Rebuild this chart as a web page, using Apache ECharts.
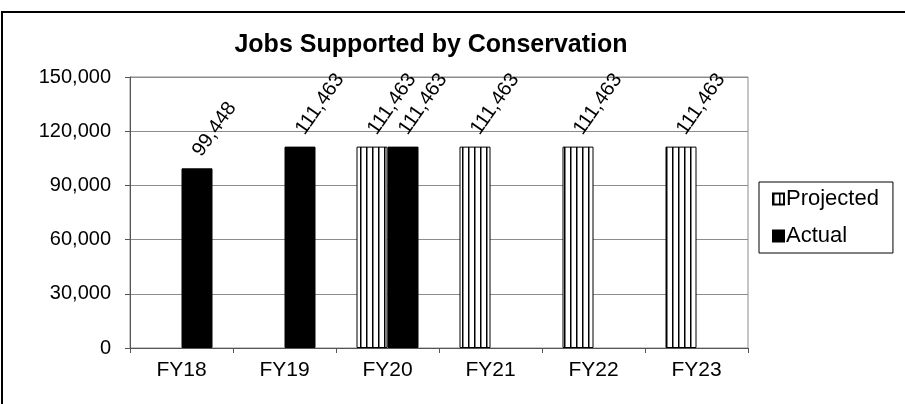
<!DOCTYPE html>
<html>
<head>
<meta charset="utf-8">
<script src="https://cdn.jsdelivr.net/npm/echarts@6/dist/echarts.min.js"></script>
<style>
  html, body { margin: 0; padding: 0; background: #fff; }
  #chart { width: 905px; height: 404px; }
</style>
</head>
<body>
<div id="chart"></div>
<script>
// data
const categories = ['FY18', 'FY19', 'FY20', 'FY21', 'FY22', 'FY23'];
const projected = [null, null, 111463, 111463, 111463, 111463];
const actual = [99448, 111463, 111463, null, null, null];
const yTicks = [0, 30000, 60000, 90000, 120000, 150000];

const font = '"Liberation Sans", Arial, sans-serif';

// vertical stripe fill for the projected bars
function stripes() {
  var c = document.createElement('canvas');
  c.width = 6;
  c.height = 6;
  var ctx = c.getContext('2d');
  ctx.fillStyle = '#fff';
  ctx.fillRect(0, 0, 6, 6);
  ctx.fillStyle = '#000';
  ctx.fillRect(0, 0, 1.5, 6);
  return c;
}

function fmt(v) {
  return Number(v).toLocaleString('en-US');
}

var chart = echarts.init(document.getElementById('chart'));

var labelOpt = {
  show: true,
  position: 'top',
  distance: 14,
  rotate: 55,
  align: 'left',
  verticalAlign: 'middle',
  color: '#000',
  fontSize: 20,
  fontFamily: font,
  formatter: function (p) { return fmt(p.value); }
};

chart.setOption({
  animation: false,
  backgroundColor: '#fff',
  title: {
    text: 'Jobs Supported by Conservation',
    left: 426,
    top: 28,
    textAlign: 'center',
    textStyle: { fontSize: 25, fontWeight: 'bold', color: '#000', fontFamily: font }
  },
  graphic: [{
    type: 'rect',
    shape: { x: 2, y: 12, width: 2000, height: 2000 },
    style: { fill: null, stroke: '#000', lineWidth: 2 },
    silent: true
  }],
  legend: {
    orient: 'vertical',
    left: 759,
    top: 182,
    padding: [6, 14, 6, 13],
    itemGap: 15,
    itemWidth: 11,
    itemHeight: 11,
    icon: 'rect',
    borderColor: '#000',
    borderWidth: 1,
    textStyle: { fontSize: 22, color: '#000', fontFamily: font, padding: [0, 0, 0, -3] },
    data: ['Projected', 'Actual']
  },
  grid: {
    left: 130,
    right: 157,
    top: 77,
    bottom: 56,
    show: true,
    borderColor: '#8c8c8c',
    borderWidth: 1
  },
  xAxis: {
    type: 'category',
    data: categories,
    axisLine: { lineStyle: { color: '#555', width: 1 } },
    axisTick: { show: true, length: 5, lineStyle: { color: '#555' } },
    axisLabel: { fontSize: 21, color: '#000', fontFamily: font, margin: 12 }
  },
  yAxis: {
    type: 'value',
    min: yTicks[0],
    max: yTicks[yTicks.length - 1],
    interval: 30000,
    axisLine: { show: true, lineStyle: { color: '#555', width: 1 } },
    axisTick: { show: true, length: 5, lineStyle: { color: '#555' } },
    splitLine: { lineStyle: { color: '#8c8c8c', width: 1 } },
    axisLabel: { fontSize: 20, color: '#000', fontFamily: font, margin: 19, formatter: fmt }
  },
  series: [
    {
      name: 'Projected',
      type: 'bar',
      data: projected,
      barWidth: 31,
      barGap: '0%',
      itemStyle: {
        color: { image: stripes(), repeat: 'repeat' },
        borderColor: '#000',
        borderWidth: 1
      },
      label: labelOpt
    },
    {
      name: 'Actual',
      type: 'bar',
      data: actual,
      barWidth: 31,
      barGap: '0%',
      itemStyle: { color: '#000', borderColor: '#000', borderWidth: 1 },
      label: labelOpt
    }
  ]
});
</script>
</body>
</html>
